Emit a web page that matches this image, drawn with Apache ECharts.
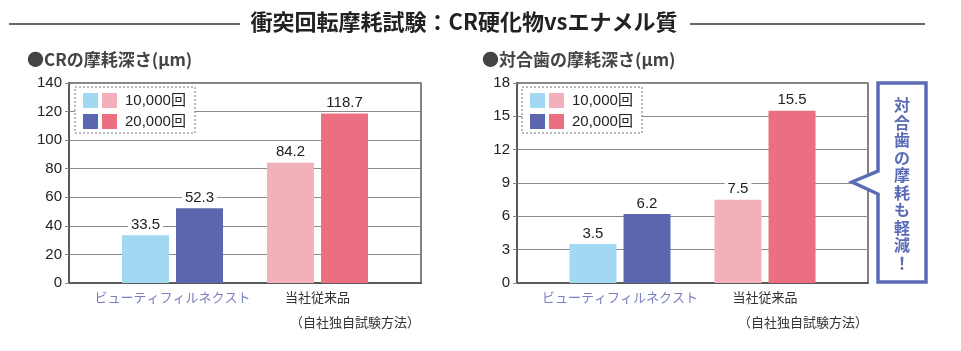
<!DOCTYPE html>
<html>
<head>
<meta charset="utf-8">
<script src="https://cdn.jsdelivr.net/npm/echarts@6/dist/echarts.min.js"></script>
<style>
  html, body { margin: 0; padding: 0; background: #fff; }
  #chart { width: 961px; height: 351px; }
</style>
</head>
<body>
<div id="chart"></div>
<script>
// data
const categories = ['ビューティフィルネクスト', '当社従来品']
const seriesNames = ['10,000回', '20,000回']
const crWear10000 = [33.5, 84.2]
const crWear20000 = [52.3, 118.7]
const toothWear10000 = [3.5, 7.5]
const toothWear20000 = [6.2, 15.5]
const crAxis = { max: 140, interval: 20 }
const toothAxis = { max: 18, interval: 3 }

// colours: [series][category]
const barColors = [
  ['#a3d8f3', '#f2b1ba'],
  ['#5c66ae', '#ec6e81']
]
const FONT = '"Liberation Sans", "Noto Sans CJK JP", sans-serif'
const CJK = '"Noto Sans CJK JP", sans-serif'
const gridColor = '#8a8a8a'
const frameColor = '#5a5a5a'
const calloutBlue = '#5b6bb5'

const chart = echarts.init(document.getElementById('chart'))

function txt(text, x, y, size, color, align, weight, extra, family) {
  return {
    type: 'text',
    silent: true,
    z: 100,
    style: Object.assign({
      text: text, x: x, y: y,
      font: (weight || 'normal') + ' ' + size + 'px ' + (family || FONT),
      fill: color,
      textAlign: align || 'left', align: align || 'left',
      textVerticalAlign: 'middle', verticalAlign: 'middle'
    }, extra || {})
  }
}

function legendGroup(x) {
  // x = left of dotted box
  const els = [{
    type: 'rect', z: 90, silent: true,
    shape: { x: x, y: 87, width: 120, height: 46 },
    style: { fill: '#fff', stroke: '#777', lineWidth: 1, lineDash: [2, 2] }
  }]
  const rowsY = [93, 114]
  rowsY.forEach((ry, s) => {
    barColors[s].forEach((c, k) => {
      els.push({
        type: 'rect', z: 95, silent: true,
        shape: { x: x + 8 + k * 19, y: ry, width: 15, height: 15 },
        style: { fill: c }
      })
    })
    els.push(txt(seriesNames[s], x + 50, ry + 8, 15, '#222'))
  })
  return els
}

function frameGrid(left, width) {
  return { left: left, top: 83, width: width, height: 200, show: true, borderColor: frameColor, borderWidth: 1.5, backgroundColor: 'transparent' }
}
function barGrid(left) {
  return { left: left, top: 83, width: 290, height: 200 }
}

function valueAxis(gridIndex, ax, visible) {
  return {
    type: 'value', gridIndex: gridIndex, min: 0, max: ax.max, interval: ax.interval,
    show: visible,
    axisLine: { show: true, lineStyle: { color: frameColor, width: 2 } },
    axisTick: { show: true, length: 4, lineStyle: { color: gridColor } },
    axisLabel: { color: '#222', fontSize: 15, fontFamily: FONT, margin: 7 },
    splitLine: { show: visible, lineStyle: { color: gridColor, width: 1 } }
  }
}

function barSeries(xi, yi, valuesBySeries) {
  return valuesBySeries.map((vals, s) => ({
    name: seriesNames[s],
    type: 'bar',
    xAxisIndex: xi, yAxisIndex: yi,
    barWidth: 47,
    barGap: '15%',
    data: vals.map((v, k) => ({ value: v, itemStyle: { color: barColors[s][k] } })),
    label: {
      show: true, position: 'top', distance: 3,
      color: '#222', fontSize: 15, fontFamily: FONT,
      backgroundColor: '#fff', padding: [0, 3]
    },
    z: 5
  }))
}

const catAxis = gi => ({
  type: 'category', gridIndex: gi, data: categories,
  axisLine: { show: false }, axisTick: { show: false },
  axisLabel: {
    interval: 0, hideOverlap: false,
    fontSize: 13, fontFamily: CJK, margin: 8,
    color: (v, i) => (i === 0 ? '#7a7fc2' : '#333')
  }
})
const hiddenX = gi => ({
  type: 'value', gridIndex: gi, min: 0, max: 1,
  axisLine: { show: true, onZero: false, lineStyle: { color: frameColor, width: 2 } },
  axisTick: { show: false }, axisLabel: { show: false }, splitLine: { show: false }
})

const calloutPath = [[878, 83], [926, 83], [926, 282], [878, 282], [878, 194], [852, 182], [878, 171]]

const option = {
  animation: false,
  grid: [frameGrid(69, 352), barGrid(100), frameGrid(517, 351), barGrid(547.5)],
  xAxis: [hiddenX(0), catAxis(1), hiddenX(2), catAxis(3)],
  yAxis: [
    valueAxis(0, crAxis, true), valueAxis(1, crAxis, false),
    valueAxis(2, toothAxis, true), valueAxis(3, toothAxis, false)
  ],
  series: [].concat(
    barSeries(1, 1, [crWear10000, crWear20000]),
    barSeries(3, 3, [toothWear10000, toothWear20000])
  ),
  graphic: [].concat(
    [
      { type: 'line', silent: true, shape: { x1: 9, y1: 24, x2: 240, y2: 24 }, style: { stroke: '#666', lineWidth: 2 } },
      { type: 'line', silent: true, shape: { x1: 690, y1: 24, x2: 925, y2: 24 }, style: { stroke: '#666', lineWidth: 2 } },
      txt('衝突回転摩耗試験：CR硬化物vsエナメル質', 464, 22, 22, '#222', 'center', 'bold', null, CJK),
      txt('●CRの摩耗深さ(μm)', 27, 60, 17, '#444', 'left', 'bold', null, CJK),
      txt('●対合歯の摩耗深さ(μm)', 482, 60, 17, '#444', 'left', 'bold', null, CJK),
      txt('（自社独自試験方法）', 420, 322, 13, '#333', 'right', 'normal', null, CJK),
      txt('（自社独自試験方法）', 868, 322, 13, '#333', 'right', 'normal', null, CJK),
      {
        type: 'polygon', silent: true, z: 90,
        shape: { points: calloutPath },
        style: { fill: '#fff', stroke: calloutBlue, lineWidth: 3.5, lineJoin: 'miter' }
      },
      txt('対\n合\n歯\nの\n摩\n耗\nも\n軽\n減\n！', 902, 184, 16, calloutBlue, 'center', 'bold', { lineHeight: 17.5 }, CJK)
    ],
    legendGroup(75),
    legendGroup(522)
  )
}

chart.setOption(option)
window.onresize = chart.resize
</script>
</body>
</html>
